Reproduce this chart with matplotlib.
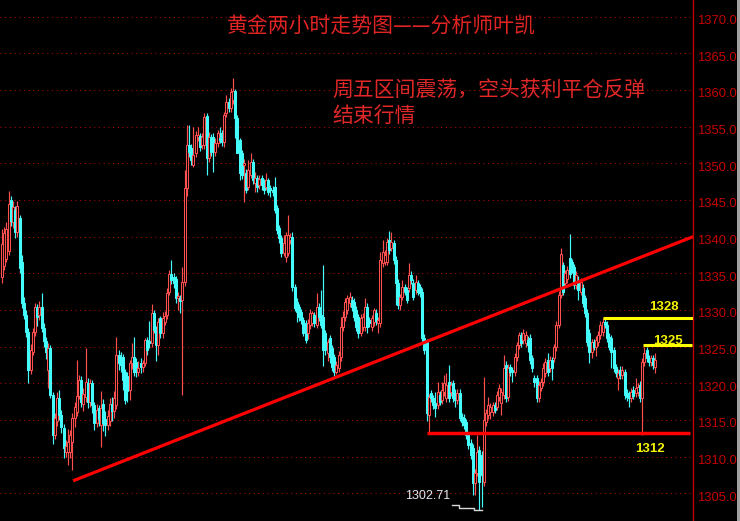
import matplotlib
matplotlib.use("Agg")
import matplotlib.pyplot as plt
import numpy as np
from matplotlib.transforms import blended_transform_factory
from matplotlib.patches import Rectangle

# ---------------- data (2-hour gold candles) ----------------
opens = [
    1334.5, 1336.0, 1337.0, 1338.0, 1345.0, 1342.0, 1343.7, 1340.6, 1342.5, 1336.5,
    1331.0, 1329.3, 1327.0, 1321.8, 1324.3, 1327.0, 1330.4, 1329.3, 1330.4, 1327.6,
    1325.8, 1321.8, 1324.8, 1318.4, 1312.9, 1314.8, 1318.0, 1315.7, 1313.9, 1310.6,
    1310.6, 1310.6, 1312.0, 1315.3, 1316.1, 1318.3, 1320.5, 1317.2, 1318.1, 1320.0,
    1317.5, 1320.0, 1317.0, 1314.6, 1316.6, 1314.3, 1317.2, 1315.2, 1314.3, 1314.9,
    1317.2, 1316.2, 1317.0, 1323.9, 1323.6, 1323.6, 1321.5, 1321.0, 1319.1, 1322.8,
    1323.6, 1322.9, 1321.5, 1322.8, 1322.2, 1322.8, 1325.9, 1325.8, 1325.5, 1329.6,
    1327.3, 1325.2, 1328.9, 1326.8, 1328.4, 1329.3, 1332.5, 1334.9, 1334.5, 1334.2,
    1331.6, 1331.6, 1331.4, 1333.8, 1346.6, 1352.5, 1352.1, 1349.8, 1351.4, 1353.6,
    1353.7, 1352.5, 1352.5, 1356.5, 1350.7, 1353.6, 1353.6, 1351.6, 1352.8, 1353.5,
    1354.1, 1352.9, 1356.9, 1358.4, 1357.5, 1358.6, 1359.9, 1356.2, 1353.2, 1351.4,
    1349.8, 1348.7, 1346.8, 1348.4, 1350.2, 1347.3, 1348.0, 1347.0, 1348.0, 1347.3,
    1346.8, 1347.7, 1346.6, 1346.4, 1346.8, 1343.9, 1341.2, 1339.8, 1337.8, 1337.2,
    1337.8, 1339.6, 1340.0, 1333.1, 1331.1, 1330.4, 1329.7, 1328.6, 1328.2, 1326.9,
    1327.9, 1328.2, 1329.3, 1328.0, 1330.4, 1329.3, 1329.0, 1326.9, 1324.1, 1326.2,
    1324.8, 1323.6, 1321.5, 1322.1, 1323.6, 1327.7, 1329.0, 1330.0, 1331.0, 1331.4,
    1331.1, 1330.0, 1329.0, 1326.9, 1327.7, 1327.7, 1330.4, 1328.6, 1327.7, 1328.3,
    1329.6, 1328.2, 1328.2, 1336.4, 1336.6, 1336.6, 1339.5, 1338.5, 1339.1, 1336.8,
    1333.7, 1330.7, 1331.8, 1333.1, 1332.7, 1333.0, 1334.8, 1333.7, 1332.7, 1333.7,
    1333.1, 1332.5, 1326.2, 1325.6, 1315.7, 1318.7, 1318.0, 1317.3, 1317.0, 1318.4,
    1317.7, 1318.8, 1318.0, 1320.2, 1318.8, 1320.0, 1318.7, 1317.7, 1318.7, 1315.4,
    1315.3, 1314.7, 1312.9, 1311.9, 1311.2, 1306.4, 1307.8, 1310.9, 1310.2, 1306.5,
    1314.7, 1315.7, 1316.1, 1316.1, 1317.0, 1316.8, 1318.1, 1317.3, 1318.4, 1322.5,
    1318.1, 1322.2, 1321.8, 1321.5, 1323.6, 1325.2, 1326.6, 1325.9, 1325.5, 1325.9,
    1326.2, 1323.5, 1320.7, 1320.7, 1318.0, 1319.4, 1320.2, 1321.4, 1323.2, 1322.1,
    1323.2, 1323.4, 1324.9, 1328.0, 1332.1, 1336.1, 1333.7, 1334.2, 1337.1, 1336.5,
    1335.8, 1333.4, 1334.1, 1332.5, 1333.0, 1331.6, 1329.6, 1326.9, 1324.3, 1325.6,
    1325.0, 1325.6, 1326.6, 1327.0, 1328.4, 1328.0, 1326.3, 1326.2, 1324.5, 1322.2,
    1320.7, 1321.8, 1321.1, 1321.5, 1318.7, 1318.4, 1318.0, 1319.1, 1318.7, 1318.8,
    1319.8, 1318.0, 1322.9, 1324.5, 1323.4, 1322.9, 1323.4, 1322.2,
]
closes = [
    1339.0, 1340.5, 1341.0, 1344.5, 1342.2, 1344.0, 1340.6, 1344.2, 1335.7, 1331.0,
    1329.3, 1327.0, 1321.8, 1324.5, 1327.0, 1330.4, 1329.0, 1330.4, 1327.6, 1325.8,
    1324.3, 1324.8, 1318.4, 1312.9, 1315.3, 1318.0, 1315.7, 1314.0, 1311.2, 1311.4,
    1312.0, 1313.0, 1315.3, 1316.8, 1318.3, 1320.5, 1317.5, 1318.6, 1320.2, 1317.5,
    1320.0, 1317.0, 1314.6, 1316.4, 1315.2, 1316.6, 1314.6, 1314.3, 1315.5, 1317.2,
    1316.2, 1318.0, 1323.8, 1322.8, 1322.5, 1320.5, 1317.7, 1319.0, 1322.8, 1323.6,
    1321.5, 1321.5, 1322.1, 1322.2, 1322.8, 1325.9, 1324.5, 1325.5, 1329.6, 1327.3,
    1325.2, 1328.4, 1326.8, 1328.9, 1329.2, 1332.3, 1334.9, 1334.1, 1333.7, 1331.6,
    1331.9, 1331.2, 1333.8, 1346.6, 1352.5, 1351.6, 1350.5, 1351.1, 1353.9, 1353.9,
    1352.2, 1353.6, 1356.3, 1350.7, 1353.6, 1351.6, 1352.8, 1352.8, 1354.1, 1353.2,
    1352.9, 1356.6, 1358.4, 1357.5, 1359.7, 1359.9, 1356.2, 1351.4, 1348.7, 1348.4,
    1350.0, 1346.4, 1349.1, 1350.2, 1347.7, 1348.0, 1346.8, 1347.9, 1347.0, 1346.4,
    1347.7, 1346.1, 1346.4, 1346.1, 1343.6, 1340.9, 1339.8, 1337.8, 1339.1, 1340.2,
    1340.2, 1340.0, 1333.1, 1330.3, 1329.7, 1329.0, 1328.6, 1326.9, 1325.9, 1328.2,
    1329.6, 1329.6, 1328.2, 1330.4, 1329.0, 1328.0, 1324.5, 1324.5, 1325.6, 1323.6,
    1322.2, 1321.5, 1322.5, 1323.9, 1327.7, 1329.0, 1331.1, 1331.6, 1331.8, 1330.4,
    1329.0, 1327.7, 1326.9, 1328.9, 1329.0, 1330.4, 1327.7, 1328.2, 1328.9, 1330.0,
    1328.5, 1328.6, 1336.8, 1337.9, 1337.5, 1339.3, 1338.2, 1339.3, 1336.8, 1333.7,
    1330.7, 1331.8, 1333.1, 1332.5, 1331.4, 1334.8, 1334.1, 1331.8, 1333.8, 1332.5,
    1332.3, 1326.2, 1324.5, 1316.0, 1318.1, 1318.0, 1317.0, 1316.6, 1318.8, 1317.5,
    1319.1, 1320.0, 1319.8, 1318.0, 1319.8, 1318.0, 1317.7, 1318.7, 1315.3, 1314.7,
    1314.3, 1312.9, 1311.6, 1310.2, 1306.4, 1307.8, 1310.6, 1306.5, 1307.5, 1315.0,
    1316.0, 1317.0, 1316.8, 1317.0, 1316.4, 1318.4, 1319.4, 1318.8, 1322.1, 1318.0,
    1322.1, 1321.5, 1321.5, 1323.6, 1325.2, 1326.6, 1325.5, 1326.9, 1326.6, 1325.2,
    1323.2, 1322.1, 1320.2, 1318.0, 1319.8, 1320.2, 1322.1, 1322.9, 1321.5, 1323.2,
    1322.1, 1324.9, 1328.0, 1332.1, 1337.6, 1332.5, 1335.0, 1335.5, 1334.9, 1335.5,
    1333.4, 1334.8, 1332.7, 1333.8, 1330.9, 1329.6, 1325.6, 1324.3, 1325.6, 1325.0,
    1325.9, 1326.6, 1328.0, 1328.4, 1328.0, 1326.2, 1325.0, 1324.3, 1322.1, 1321.4,
    1321.4, 1321.1, 1321.8, 1318.4, 1318.1, 1318.0, 1318.8, 1318.3, 1319.4, 1319.5,
    1318.0, 1322.9, 1324.1, 1323.4, 1322.9, 1323.4, 1322.5, 1323.2,
]
highs = [
    1341.0, 1341.3, 1342.0, 1346.2, 1345.5, 1344.8, 1344.2, 1344.9, 1343.0, 1337.5,
    1331.8, 1330.0, 1327.5, 1325.3, 1327.6, 1331.0, 1330.8, 1331.2, 1332.3, 1328.2,
    1326.3, 1325.5, 1325.2, 1318.8, 1316.0, 1318.8, 1319.1, 1316.3, 1314.4, 1312.2,
    1313.8, 1313.6, 1316.0, 1317.5, 1323.2, 1321.2, 1321.0, 1319.3, 1324.8, 1320.7,
    1320.6, 1320.4, 1317.5, 1317.2, 1317.0, 1318.9, 1317.8, 1316.2, 1316.3, 1318.0,
    1318.2, 1319.0, 1326.3, 1324.5, 1324.3, 1324.0, 1322.0, 1321.5, 1323.2, 1325.5,
    1326.3, 1323.5, 1323.0, 1323.4, 1323.2, 1326.2, 1326.3, 1328.5, 1330.8, 1330.0,
    1327.8, 1328.9, 1329.2, 1329.7, 1329.9, 1333.0, 1335.4, 1336.8, 1335.0, 1334.6,
    1332.4, 1332.0, 1335.9, 1349.1, 1355.2, 1355.2, 1352.6, 1355.0, 1354.4, 1355.0,
    1354.2, 1354.1, 1356.9, 1356.8, 1354.3, 1354.0, 1354.2, 1353.4, 1354.6, 1355.0,
    1354.5, 1357.0, 1359.3, 1358.9, 1360.3, 1361.6, 1360.2, 1356.6, 1353.5, 1351.8,
    1350.6, 1349.2, 1350.5, 1351.4, 1350.6, 1348.8, 1348.4, 1348.4, 1348.4, 1347.8,
    1348.7, 1348.0, 1347.1, 1346.9, 1348.2, 1344.3, 1341.6, 1340.2, 1340.2, 1340.7,
    1342.9, 1340.5, 1340.6, 1333.5, 1331.6, 1330.8, 1330.1, 1329.0, 1328.6, 1328.8,
    1330.1, 1329.9, 1329.7, 1332.3, 1330.9, 1332.7, 1336.1, 1327.3, 1326.1, 1326.6,
    1325.2, 1324.0, 1323.0, 1324.4, 1329.1, 1329.8, 1331.7, 1332.0, 1332.4, 1331.9,
    1331.6, 1330.5, 1329.5, 1329.4, 1329.6, 1331.7, 1330.9, 1329.1, 1329.3, 1330.3,
    1330.1, 1329.1, 1337.9, 1339.5, 1338.2, 1339.8, 1340.8, 1340.6, 1339.6, 1337.3,
    1334.2, 1332.2, 1334.1, 1333.6, 1333.2, 1336.4, 1335.3, 1334.2, 1334.8, 1334.1,
    1333.6, 1333.0, 1326.7, 1326.1, 1318.6, 1319.1, 1318.4, 1318.8, 1320.2, 1318.9,
    1320.2, 1321.2, 1321.4, 1322.5, 1320.3, 1320.5, 1319.2, 1319.2, 1319.2, 1315.9,
    1315.8, 1315.2, 1313.4, 1312.4, 1311.7, 1308.3, 1312.9, 1311.4, 1310.7, 1320.9,
    1316.5, 1318.2, 1317.3, 1317.5, 1317.5, 1318.9, 1319.9, 1319.3, 1323.9, 1323.0,
    1322.6, 1322.7, 1322.2, 1324.1, 1325.7, 1327.0, 1327.0, 1327.4, 1327.1, 1326.4,
    1326.7, 1323.9, 1321.2, 1321.1, 1320.3, 1320.7, 1322.8, 1323.4, 1324.2, 1323.7,
    1323.6, 1325.4, 1328.5, 1332.6, 1338.5, 1336.6, 1335.5, 1336.0, 1340.4, 1337.0,
    1336.3, 1335.3, 1334.6, 1334.3, 1333.5, 1332.1, 1330.1, 1327.4, 1326.1, 1326.1,
    1326.4, 1327.1, 1328.5, 1328.9, 1328.9, 1328.5, 1326.8, 1326.6, 1325.0, 1322.7,
    1321.9, 1322.3, 1322.3, 1322.0, 1319.2, 1318.9, 1319.3, 1319.6, 1320.7, 1320.0,
    1320.3, 1323.4, 1325.0, 1325.0, 1323.9, 1323.9, 1323.9, 1324.1,
]
lows = [
    1333.7, 1335.5, 1336.5, 1337.5, 1341.5, 1341.2, 1339.8, 1340.0, 1335.0, 1330.3,
    1328.8, 1326.3, 1320.1, 1321.3, 1323.8, 1326.5, 1327.8, 1328.6, 1327.0, 1325.0,
    1323.3, 1319.4, 1318.0, 1311.7, 1312.4, 1314.2, 1315.0, 1313.2, 1309.8, 1309.9,
    1308.8, 1309.8, 1308.2, 1314.0, 1315.5, 1317.8, 1316.8, 1316.2, 1317.5, 1316.6,
    1316.8, 1316.0, 1313.6, 1314.0, 1314.2, 1311.3, 1313.5, 1312.8, 1313.6, 1314.2,
    1314.8, 1315.3, 1316.5, 1321.8, 1321.5, 1319.1, 1317.2, 1317.5, 1317.7, 1322.0,
    1321.0, 1320.8, 1321.0, 1321.4, 1321.5, 1322.3, 1323.9, 1324.8, 1325.0, 1326.8,
    1323.0, 1323.9, 1326.2, 1326.2, 1327.9, 1328.8, 1332.0, 1333.5, 1333.0, 1330.9,
    1330.0, 1329.6, 1318.4, 1333.3, 1345.5, 1350.8, 1349.8, 1349.5, 1350.9, 1353.0,
    1351.7, 1352.0, 1352.0, 1348.4, 1350.2, 1351.0, 1348.8, 1351.0, 1352.2, 1352.8,
    1352.3, 1352.2, 1356.3, 1357.0, 1357.0, 1358.1, 1353.5, 1351.4, 1347.7, 1347.8,
    1344.7, 1345.9, 1346.3, 1348.0, 1347.2, 1346.1, 1346.1, 1346.5, 1346.4, 1345.8,
    1346.3, 1345.7, 1345.4, 1345.5, 1343.2, 1340.4, 1339.2, 1337.2, 1337.3, 1336.6,
    1337.3, 1339.0, 1332.6, 1329.8, 1328.4, 1328.5, 1328.1, 1326.4, 1325.5, 1326.1,
    1327.4, 1327.8, 1327.7, 1327.5, 1328.5, 1327.5, 1322.3, 1323.8, 1323.1, 1322.8,
    1321.7, 1321.0, 1321.3, 1321.6, 1323.1, 1327.2, 1328.5, 1329.5, 1330.4, 1329.9,
    1328.5, 1327.2, 1326.2, 1326.4, 1327.2, 1327.2, 1326.9, 1327.7, 1327.2, 1327.8,
    1328.0, 1326.9, 1327.7, 1335.9, 1336.1, 1336.1, 1337.7, 1338.0, 1336.3, 1330.7,
    1330.2, 1330.0, 1331.3, 1332.0, 1330.9, 1332.5, 1333.6, 1331.3, 1332.2, 1332.0,
    1331.8, 1325.7, 1324.0, 1314.8, 1313.2, 1317.5, 1316.5, 1315.4, 1316.5, 1317.0,
    1317.2, 1318.3, 1317.5, 1317.5, 1318.3, 1317.5, 1316.8, 1317.2, 1314.8, 1314.2,
    1313.8, 1312.4, 1311.1, 1309.7, 1304.8, 1304.8, 1307.3, 1302.7, 1303.1, 1306.0,
    1314.2, 1315.2, 1315.2, 1315.6, 1315.9, 1316.3, 1317.6, 1315.7, 1317.9, 1317.5,
    1317.6, 1321.0, 1320.2, 1321.0, 1323.1, 1324.7, 1325.0, 1325.4, 1325.0, 1324.3,
    1322.7, 1321.6, 1319.5, 1317.5, 1317.5, 1318.9, 1319.7, 1320.9, 1321.0, 1321.6,
    1320.4, 1322.9, 1324.4, 1327.5, 1331.6, 1332.0, 1333.2, 1333.7, 1334.4, 1335.0,
    1332.9, 1332.9, 1331.4, 1332.0, 1330.4, 1329.1, 1325.1, 1322.8, 1323.5, 1324.5,
    1323.7, 1325.1, 1326.1, 1326.5, 1327.5, 1325.7, 1324.5, 1322.1, 1321.6, 1320.9,
    1319.1, 1320.6, 1320.6, 1317.9, 1317.6, 1316.8, 1317.5, 1317.8, 1318.2, 1318.3,
    1317.5, 1313.0, 1322.4, 1322.9, 1322.4, 1322.4, 1322.0, 1321.4,
]

price_ticks = [1305, 1310, 1315, 1320, 1325, 1330, 1335, 1340,
               1345, 1350, 1355, 1360, 1365, 1370]

title_text = "黄金两小时走势图——分析师叶凯"
comment_lines = ["周五区间震荡，空头获利平仓反弹", "结束行情"]

# drawn trend line (bar index, price)
trend_x = [32.3, 314.1]
trend_y = [1306.7, 1340.0]
# horizontal support / resistance lines
support_price = 1313.2
support_x = [193.0, 312.7]
resist_prices = [1328.9, 1325.2]
resist_x = [[273.0, 315.0], [291.2, 313.5]]
level_labels = ["1328", "1325", "1312"]
level_label_x = [300.9, 302.5, 294.3]
level_label_y = [1330.45, 1325.81, 1311.08]
low_label = "1302.71"
low_label_x, low_label_y = 193.6, 1304.6
low_pointer_x = [204.4, 211.0, 218.0]
low_pointer_y = [1303.4, 1303.0, 1302.7]

# ---------------- drawing ----------------
RED = "#ff4f4f"
CYAN = "#44fcfc"
GRID = "#b40000"
AXRED = "#c40000"
CJK = ["Noto Sans CJK SC", "DejaVu Sans"]

fig = plt.figure(figsize=(7.40, 5.21), dpi=100, facecolor="black")
ax = fig.add_axes([0, 0, 693 / 740, 1])
ax.set_facecolor("black")

o = np.array(opens); c = np.array(closes)
h = np.array(highs); l = np.array(lows)
x = np.arange(len(c))
up = c > o
edge = np.where(up, RED, CYAN)
face = np.where(up, "black", CYAN)

ax.set_xlim(-0.909, 314.09)
ax.set_ylim(1301.22, 1372.28)

for p in price_ticks:
    ax.axhline(p, color=GRID, lw=0.75, ls=(0, (1, 3.5)), zorder=1)

top = np.maximum(h, np.maximum(o, c))
bot = np.minimum(l, np.minimum(o, c))
ax.vlines(x, bot, top, colors=edge, lw=0.85, zorder=2)
bodies_bottom = np.minimum(o, c)
bodies_h = np.maximum(np.abs(c - o), 0.06)
ax.bar(x, bodies_h, bottom=bodies_bottom, width=0.85, color=face,
       edgecolor=edge, linewidth=0.75, zorder=3)

# analysis lines
ax.plot(trend_x, trend_y, color="#ff0000", lw=2.3, zorder=5, solid_capstyle="butt")
ax.plot(support_x, [support_price] * 2, color="#ff0000", lw=2.5, zorder=5,
        solid_capstyle="butt")
for rp, rx in zip(resist_prices, resist_x):
    ax.plot(rx, [rp, rp], color="#ffff00", lw=2.2, zorder=5, solid_capstyle="butt")

for t, lx, ly in zip(level_labels, level_label_x, level_label_y):
    ax.text(lx, ly, t, color="#f4f400", fontsize=9.5, fontweight="bold",
            family="Liberation Sans", ha="center", va="center", zorder=6)

ax.plot(low_pointer_x, low_pointer_y, color="#d8d8d8", lw=1.0, zorder=6,
        drawstyle="steps-mid")
ax.text(low_label_x, low_label_y, low_label, color="#e8e8f0", fontsize=9,
        family="Liberation Sans", ha="center", va="center", zorder=6)

# spines / axis
for s in ["left", "top", "bottom"]:
    ax.spines[s].set_visible(False)
ax.spines["right"].set_color(AXRED)
ax.spines["right"].set_linewidth(1.0)
ax.set_xticks([])
ax.set_yticks([])

tr = blended_transform_factory(ax.transAxes, ax.transData)
for p in price_ticks:
    ax.text(1.0055, p - 0.6, f"{p:.1f}", transform=tr, color=AXRED,
            fontsize=9.4, family="Liberation Sans", ha="left", va="center",
            clip_on=False)

# right edge strip
fig.patches.append(Rectangle((737 / 740, 0), 3 / 740, 1, transform=fig.transFigure,
                             facecolor="#a0a0a0", edgecolor="none"))

# texts
fig.text(227 / 740, 1 - 27 / 521, title_text, color="#e02424", fontsize=15,
         family=CJK, ha="left", va="center")
fig.text(332 / 740, 1 - 90 / 521, comment_lines[0], color="#e02828", fontsize=15,
         family=CJK, ha="left", va="center")
fig.text(332 / 740, 1 - 116 / 521, comment_lines[1], color="#e02828", fontsize=15,
         family=CJK, ha="left", va="center")

fig.savefig("out.png", dpi=100, facecolor="black")
